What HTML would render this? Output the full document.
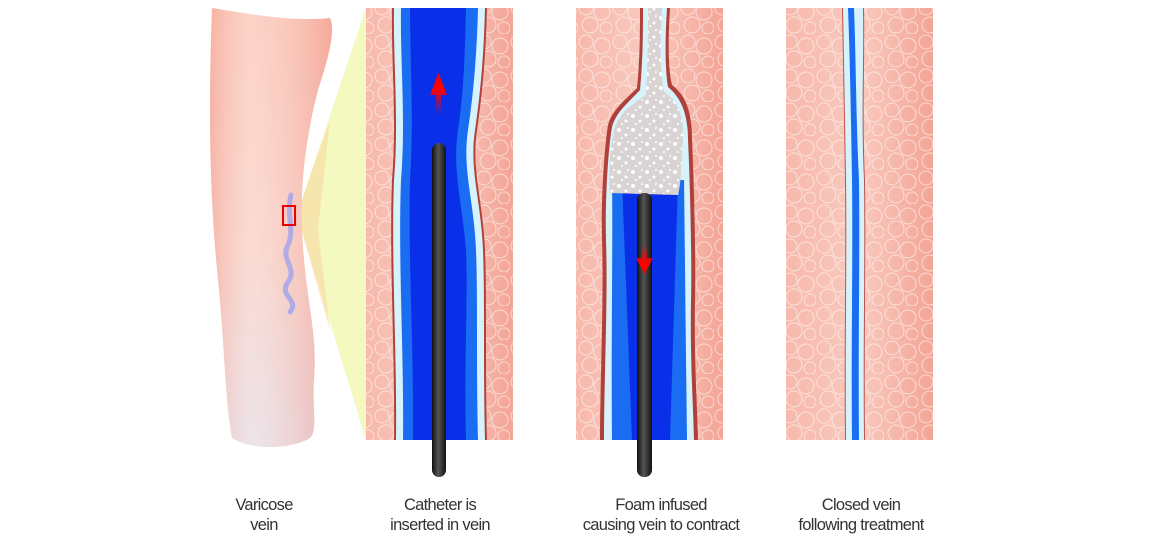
<!DOCTYPE html>
<html><head><meta charset="utf-8"><style>
html,body{margin:0;padding:0;background:#fff;width:1164px;height:545px;overflow:hidden}
svg{display:block}
text{font-family:"Liberation Sans",sans-serif;font-size:16.5px;fill:#333;text-anchor:middle;letter-spacing:-0.7px}
</style></head><body>
<svg width="1164" height="545" viewBox="0 0 1164 545" xmlns="http://www.w3.org/2000/svg">
<defs>
<linearGradient id="leg" x1="0" y1="0" x2="0" y2="1">
<stop offset="0" stop-color="#fbc3b3"/><stop offset="0.55" stop-color="#f9cfc5"/><stop offset="1" stop-color="#e6dbe3"/>
</linearGradient>
<linearGradient id="legh" x1="0" y1="0" x2="1" y2="0">
<stop offset="0" stop-color="#f2a090" stop-opacity="0.5"/><stop offset="0.35" stop-color="#fff" stop-opacity="0.25"/><stop offset="1" stop-color="#ee9080" stop-opacity="0.5"/>
</linearGradient>
<linearGradient id="tis" x1="0" y1="0" x2="1" y2="0">
<stop offset="0" stop-color="#f7b9ac"/><stop offset="0.5" stop-color="#f9c9be"/><stop offset="1" stop-color="#f3a596"/>
</linearGradient>
<pattern id="cells" width="34" height="34" patternUnits="userSpaceOnUse">
<g fill="none" stroke="#fff" stroke-opacity="0.55" stroke-width="1">
<circle cx="8" cy="8" r="7"/><circle cx="24" cy="12" r="8"/><circle cx="12" cy="25" r="8"/><circle cx="28" cy="28" r="6"/>
</g></pattern>
<linearGradient id="cath" x1="0" y1="0" x2="1" y2="0">
<stop offset="0" stop-color="#111"/><stop offset="0.45" stop-color="#555"/><stop offset="1" stop-color="#111"/>
</linearGradient>
<linearGradient id="arrUp" x1="0" y1="1" x2="0" y2="0">
<stop offset="0" stop-color="#f00" stop-opacity="0"/><stop offset="0.6" stop-color="#f00"/>
</linearGradient>
<linearGradient id="arrDn" x1="0" y1="0" x2="0" y2="1">
<stop offset="0" stop-color="#f00" stop-opacity="0"/><stop offset="0.6" stop-color="#f00"/>
</linearGradient>
<pattern id="foam" width="14" height="14" patternUnits="userSpaceOnUse">
<rect width="14" height="14" fill="#d9d3d3"/>
<circle cx="3" cy="4" r="2" fill="#fff"/><circle cx="10" cy="9" r="1.5" fill="#fff"/><circle cx="6" cy="12" r="1" fill="#fff"/><circle cx="12" cy="2" r="1" fill="#fff"/>
</pattern>
</defs>

<!-- yellow cone -->
<polygon points="300,205 366,8 366,440 300,225" fill="#f4f9c0"/>
<polygon points="300,205 330,120 318,230 330,330 300,225" fill="#f6d9a0" opacity="0.6"/>

<!-- leg -->
<path d="M212,8 C250,14 290,22 330,18 C336,30 328,60 318,90 C305,140 300,190 302,230 C305,300 318,330 314,380 C312,410 318,430 310,438 C290,450 250,450 232,438 C225,400 225,350 218,280 C210,200 208,120 212,8 Z" fill="url(#leg)"/>
<path d="M212,8 C250,14 290,22 330,18 C336,30 328,60 318,90 C305,140 300,190 302,230 C305,300 318,330 314,380 C312,410 318,430 310,438 C290,450 250,450 232,438 C225,400 225,350 218,280 C210,200 208,120 212,8 Z" fill="url(#legh)"/>
<path d="M291,195 C286,215 295,230 288,245 C280,260 298,268 288,282 C278,296 300,300 290,312" fill="none" stroke="#9a9ff0" stroke-width="5" stroke-linecap="round" opacity="0.75"/>
<rect x="283" y="206" width="12" height="19" fill="none" stroke="#e00" stroke-width="2"/>

<!-- Panel 1 -->
<rect x="366" y="8" width="147" height="432" fill="url(#tis)"/>
<rect x="366" y="8" width="147" height="432" fill="url(#cells)"/>
<path d="M392,8 C391,60 397,120 392,180 C389,260 395,350 394,440 L487,440 C485,360 487,300 485,250 C483,200 471,170 477,130 C483,90 486,50 487,8 Z" fill="#b0413a"/>
<path d="M394,8 C393,60 399,120 394,180 C391,260 397,350 396,440 L485,440 C483,360 485,300 483,250 C481,200 469,170 475,130 C481,90 484,50 485,8 Z" fill="#d6f3fb"/>
<path d="M401,8 C400,60 406,120 401,180 C398,260 404,350 403,440 L478,440 C476,360 478,300 476,250 C474,200 462,170 468,130 C474,90 477,50 478,8 Z" fill="#1a6cf2"/>
<path d="M410,8 C410,60 414,120 410,180 C408,260 414,350 413,440 L466,440 C464,360 468,300 466,250 C462,200 452,170 458,130 C464,90 465,50 466,8 Z" fill="#0a2fe8"/>
<polygon points="436,115 441,115 441,95 447,95 438.5,73 430,95 436,95" fill="url(#arrUp)"/>
<rect x="432" y="143" width="14" height="334" rx="7" fill="url(#cath)"/>

<!-- Panel 2 -->
<rect x="576" y="8" width="147" height="432" fill="url(#tis)"/>
<rect x="576" y="8" width="147" height="432" fill="url(#cells)"/>
<path d="M640,8 L670,8 C668,40 668,70 672,85 C685,95 692,110 692,140 C694,180 696,260 695,300 C694,360 697,400 698,440 L600,440 C600,380 604,300 602,240 C601,200 604,150 608,125 C612,110 625,100 637,88 C640,60 640,30 640,8 Z" fill="#b0413a"/>
<path d="M643,8 L667,8 C665,40 665,70 668,87 C680,97 688,112 688,140 C690,180 692,260 691,300 C690,360 693,400 694,440 L604,440 C604,380 608,300 606,240 C605,200 608,150 612,127 C616,112 628,103 640,90 C643,60 643,30 643,8 Z" fill="#d6f3fb"/>
<path d="M612,180 C613,250 611,330 612,440 L687,440 C686,360 685,260 684,180 Z" fill="#1a6cf2"/>
<path d="M622,180 L632,440 L670,440 L678,180 Z" fill="#0a2fe8"/>
<path d="M648,8 L662,8 C660,40 660,70 664,92 C676,100 684,112 683,140 C681,160 682,180 678,195 L610,193 C608,170 610,150 614,130 C618,115 630,105 646,95 C648,60 648,30 648,8 Z" fill="url(#foam)"/>
<rect x="637" y="193" width="15" height="284" rx="7" fill="url(#cath)"/>
<polygon points="642,245 647,245 647,258 653,258 644.5,274 636,258 642,258" fill="url(#arrDn)"/>

<!-- Panel 3 -->
<rect x="786" y="8" width="147" height="432" fill="url(#tis)"/>
<rect x="786" y="8" width="147" height="432" fill="url(#cells)"/>
<path d="M842,8 L864,8 C865,60 862,120 865,180 C866,260 864,350 865,440 L845,440 C844,350 846,260 845,180 C844,120 843,60 842,8 Z" fill="#c0504a"/>
<path d="M843,8 L863,8 C864,60 861,120 864,180 C865,260 863,350 864,440 L846,440 C845,350 847,260 846,180 C845,120 844,60 843,8 Z" fill="#d6f3fb"/>
<path d="M848,8 L854,8 C856,60 856,120 859,180 C860,260 858,350 859,440 L852,440 C851,350 853,260 852,180 C851,120 850,60 848,8 Z" fill="#1a6cf2"/>

<!-- labels -->
<text x="264" y="510">Varicose</text><text x="264" y="530">vein</text>
<text x="440" y="510">Catheter is</text><text x="440" y="530">inserted in vein</text>
<text x="661" y="510">Foam infused</text><text x="661" y="530">causing vein to contract</text>
<text x="861" y="510">Closed vein</text><text x="861" y="530">following treatment</text>
</svg>
</body></html>
